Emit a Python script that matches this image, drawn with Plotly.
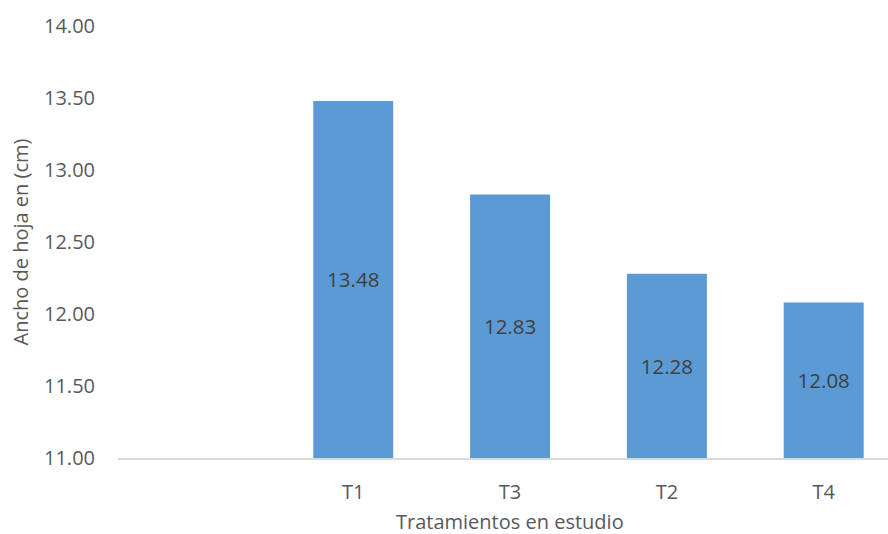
import plotly.graph_objects as go

categories = ["", "T1", "T3", "T2", "T4"]
values = [None, 13.48, 12.83, 12.28, 12.08]
y_min, y_max = 11.0, 14.0
y_ticks = [11.0, 11.5, 12.0, 12.5, 13.0, 13.5, 14.0]

x_pos = list(range(len(categories)))
lengths = [None if v is None else v - y_min for v in values]
labels = ["" if v is None else f"{v:.2f}" for v in values]

font = "Open Sans, Liberation Sans, sans-serif"

fig = go.Figure()
fig.add_trace(go.Bar(
    x=x_pos,
    y=lengths,
    base=y_min,
    width=0.51,
    text=labels,
    textposition="inside",
    insidetextanchor="middle",
    constraintext="none",
    textfont=dict(family=font, size=20.5, color="#404040"),
    marker=dict(color="#5B9AD5", line=dict(width=0)),
    hoverinfo="skip",
))

fig.update_layout(
    width=888, height=534,
    margin=dict(l=118, r=0, t=26, b=76, autoexpand=False),
    paper_bgcolor="white", plot_bgcolor="white",
    showlegend=False,
    font=dict(family=font, size=20, color="#595959"),
    bargap=0.49,
    annotations=[dict(
        text="Tratamientos en estudio", xref="paper", yref="paper",
        x=0.509, y=-0.147, xanchor="center", yanchor="middle",
        borderpad=0,
        showarrow=False, font=dict(family=font, size=20, color="#595959"),
    )],
)
fig.update_xaxes(
    range=[-0.5, 4.41],
    tickvals=x_pos, ticktext=categories,
    showline=True, linecolor="#D9D9D9", linewidth=1.5,
    showgrid=False, zeroline=False, ticks="",
    ticklabelstandoff=15,
    tickfont=dict(family=font, size=20, color="#595959"),
    automargin=False,
)
fig.update_yaxes(
    range=[y_min, y_max],
    tickvals=y_ticks, tickformat=".2f",
    showline=False, showgrid=False, zeroline=False, ticks="",
    ticklabelstandoff=22,
    tickfont=dict(family=font, size=20, color="#595959"),
    title=dict(text="Ancho de hoja en (cm)", standoff=10,
               font=dict(family=font, size=20, color="#595959")),
    automargin=False,
)

fig.write_html("out.html")
